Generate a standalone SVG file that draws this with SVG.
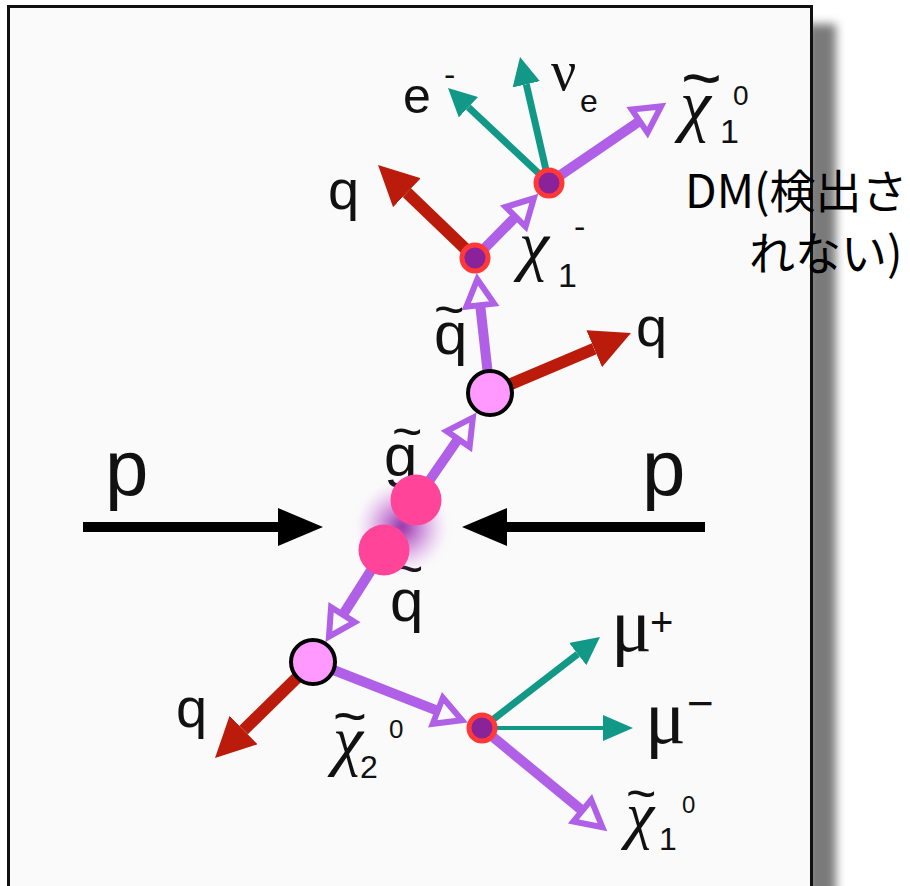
<svg xmlns="http://www.w3.org/2000/svg" width="910" height="886" viewBox="0 0 910 886">
  <defs>
    <style>
      .lbl { font-family: "Liberation Sans", Arial, sans-serif; font-style: normal; fill: #111; }
      .grk { font-family: "Liberation Serif", "Times New Roman", serif; fill: #111; }
      .chi { font-family: "Liberation Serif", "Times New Roman", serif; font-style: italic; fill: #111; }
      .jp { font-family: "Noto Sans CJK JP", "Noto Sans", sans-serif; fill: #000; font-size: 46px; }
      .sparticle { stroke: #b060e6; stroke-width: 10; fill: none; }
      .quark { stroke: #bb1b0b; stroke-width: 12; fill: none; }
      .lepton { stroke: #129887; stroke-width: 7; fill: none; }
      .lepton-thin { stroke: #129887; stroke-width: 4; fill: none; }
      .beam { stroke: #000; stroke-width: 10; fill: none; }
      .cascade { fill: #ff99ff; stroke: #000; stroke-width: 4; }
      .decay { fill: #8a2299; stroke: #ff3838; stroke-width: 5; }
      .proton { fill: #ff4499; }
    </style>
    <!-- arrowheads: reference point sits at the base of each head -->
    <marker id="headQuark" markerUnits="userSpaceOnUse" viewBox="0 0 40 40" markerWidth="40" markerHeight="40" refX="0" refY="20" orient="auto">
      <path d="M0,0 L40,20 L0,40 Z" fill="#bb1b0b"/>
    </marker>
    <marker id="headLepton" markerUnits="userSpaceOnUse" viewBox="0 0 28 28" markerWidth="28" markerHeight="28" refX="0" refY="14" orient="auto">
      <path d="M0,0 L28,14 L0,28 Z" fill="#129887"/>
    </marker>
    <marker id="headLeptonThin" markerUnits="userSpaceOnUse" viewBox="0 0 30 26" markerWidth="30" markerHeight="26" refX="0" refY="13" orient="auto">
      <path d="M0,0 L30,13 L0,26 Z" fill="#129887"/>
    </marker>
    <marker id="headBeam" markerUnits="userSpaceOnUse" viewBox="0 0 45 38" markerWidth="45" markerHeight="38" refX="0" refY="19" orient="auto">
      <path d="M0,0 L45,19 L0,38 Z" fill="#000"/>
    </marker>
    <marker id="headSparticle" markerUnits="userSpaceOnUse" viewBox="-6 -20 46 40" markerWidth="46" markerHeight="40" refX="0" refY="0" orient="auto">
      <path d="M0,-14 L26,0 L0,14 Z" fill="#fafafa" stroke="#b060e6" stroke-width="6" stroke-linejoin="miter"/>
    </marker>
    <radialGradient id="glow" cx="0.5" cy="0.5" r="0.5">
      <stop offset="0" stop-color="#8a1a9a" stop-opacity="0.95"/>
      <stop offset="0.5" stop-color="#b85ccc" stop-opacity="0.55"/>
      <stop offset="1" stop-color="#e0a8ec" stop-opacity="0"/>
    </radialGradient>
    <filter id="soft" x="-50%" y="-50%" width="200%" height="200%">
      <feGaussianBlur stdDeviation="3"/>
    </filter>
    <filter id="dropShadow" x="-100%" y="-5%" width="300%" height="110%">
      <feGaussianBlur stdDeviation="5"/>
    </filter>
  </defs>

  <rect width="910" height="886" fill="#ffffff"/>

  <!-- panel with drop shadow -->
  <g id="panel">
    <rect x="806" y="24" width="30" height="900" fill="#7a7a7a" filter="url(#dropShadow)"/>
    <rect x="8.5" y="6.5" width="803" height="900" fill="#fafafa" stroke="#111" stroke-width="3"/>
  </g>

  <!-- particle tracks -->
  <g id="connectors">
    <!-- incoming protons -->
    <line class="beam" x1="83" y1="527" x2="278" y2="527" marker-end="url(#headBeam)"/>
    <line class="beam" x1="705" y1="527" x2="507" y2="527" marker-end="url(#headBeam)"/>

    <!-- upper cascade -->
    <line class="sparticle" x1="416" y1="500" x2="458.1" y2="439" marker-end="url(#headSparticle)"/>
    <line class="quark" x1="490" y1="393" x2="594.2" y2="348.7" marker-end="url(#headQuark)"/>
    <line class="sparticle" x1="490" y1="393" x2="480.2" y2="305.2" marker-end="url(#headSparticle)"/>
    <line class="quark" x1="475" y1="258" x2="406.9" y2="192.7" marker-end="url(#headQuark)"/>
    <line class="sparticle" x1="475" y1="258" x2="515.6" y2="216.8" marker-end="url(#headSparticle)"/>
    <line class="lepton" x1="549" y1="183" x2="468.4" y2="107.2" marker-end="url(#headLepton)"/>
    <line class="lepton" x1="549" y1="183" x2="526.3" y2="84.3" marker-end="url(#headLepton)"/>
    <line class="sparticle" x1="549" y1="183" x2="639.6" y2="121.1" marker-end="url(#headSparticle)"/>

    <!-- lower cascade -->
    <line class="sparticle" x1="384" y1="550" x2="342.9" y2="614.7" marker-end="url(#headSparticle)"/>
    <line class="quark" x1="313" y1="662" x2="243.6" y2="730" marker-end="url(#headQuark)"/>
    <line class="sparticle" x1="313" y1="662" x2="437.8" y2="710.8" marker-end="url(#headSparticle)"/>
    <line class="lepton" x1="482" y1="728" x2="577.8" y2="654.1" marker-end="url(#headLepton)"/>
    <line class="lepton-thin" x1="482" y1="728" x2="603" y2="728" marker-end="url(#headLeptonThin)"/>
    <line class="sparticle" x1="482" y1="728" x2="582.3" y2="810.6" marker-end="url(#headSparticle)"/>
  </g>

  <!-- particle labels -->
  <g id="labels">
    <text class="lbl" x="105" y="495" font-size="78">p</text>
    <text class="lbl" x="642" y="495" font-size="78">p</text>

    <text class="lbl" x="328" y="209" font-size="56">q</text>
    <text class="lbl" x="636" y="346" font-size="56">q</text>
    <text class="lbl" x="176" y="727" font-size="56">q</text>

    <!-- squark / gluino labels: tilde set above the letter -->
    <text class="lbl" font-size="60"><tspan x="434" y="327" font-size="52">~</tspan><tspan x="434" y="354">q</tspan></text>
    <text class="lbl" font-size="60"><tspan x="392" y="449" font-size="52">~</tspan><tspan x="384" y="476">g</tspan></text>
    <text class="lbl" font-size="60"><tspan x="393" y="586" font-size="52">~</tspan><tspan x="390" y="621">q</tspan></text>

    <text class="lbl" x="403" y="113" font-size="50">e<tspan x="444" y="86" font-size="34">-</tspan></text>
    <text class="grk" x="551" y="90" font-size="56">ν<tspan class="lbl" x="580" y="112" font-size="32">e</tspan></text>

    <!-- neutralino / chargino labels -->
    <text class="chi" font-size="70"><tspan class="lbl" x="681" y="102">~</tspan><tspan x="680" y="128">χ</tspan><tspan class="lbl" x="720" y="143" font-size="34">1</tspan><tspan class="lbl" x="733" y="105" font-size="28">0</tspan></text>

    <text class="chi" x="519" y="268" font-size="68">χ<tspan class="lbl" x="558" y="287" font-size="34">1</tspan><tspan class="lbl" x="574" y="238" font-size="34">-</tspan></text>

    <text class="chi" font-size="68"><tspan class="lbl" x="333" y="736" font-size="58">~</tspan><tspan x="333" y="763">χ</tspan><tspan class="lbl" x="360" y="778" font-size="32">2</tspan><tspan class="lbl" x="389" y="738" font-size="26">0</tspan></text>

    <text class="grk" x="611" y="651" font-size="76">μ<tspan class="lbl" x="650" y="636" font-size="40">+</tspan></text>
    <text class="grk" x="645" y="743" font-size="76">μ<tspan class="lbl" x="687" y="719" font-size="46">−</tspan></text>

    <text class="chi" font-size="64"><tspan class="lbl" x="626" y="811" font-size="52">~</tspan><tspan x="626" y="836">χ</tspan><tspan class="lbl" x="659" y="850" font-size="32">1</tspan><tspan class="lbl" x="682" y="813" font-size="24">0</tspan></text>
  </g>

  <!-- collision point -->
  <g id="collision">
    <circle cx="402" cy="527" r="46" fill="url(#glow)" filter="url(#soft)"/>
    <circle id="proton-upper" class="proton" cx="416" cy="500" r="25.5"/>
    <circle id="proton-lower" class="proton" cx="384" cy="550" r="25.5"/>
  </g>

  <!-- decay vertices -->
  <g id="vertex-squark-upper"><circle class="cascade" cx="490" cy="393" r="22"/></g>
  <g id="vertex-chargino"><circle class="decay" cx="475" cy="258" r="13"/></g>
  <g id="vertex-chargino-decay"><circle class="decay" cx="549" cy="183" r="13"/></g>
  <g id="vertex-squark-lower"><circle class="cascade" cx="313" cy="662" r="22"/></g>
  <g id="vertex-neutralino2"><circle class="decay" cx="482" cy="728" r="13"/></g>

  <!-- annotation -->
  <g id="note">
    <text class="jp" x="685" y="208">DM(検出さ</text>
    <text class="jp" x="749" y="270">れない)</text>
  </g>
</svg>
